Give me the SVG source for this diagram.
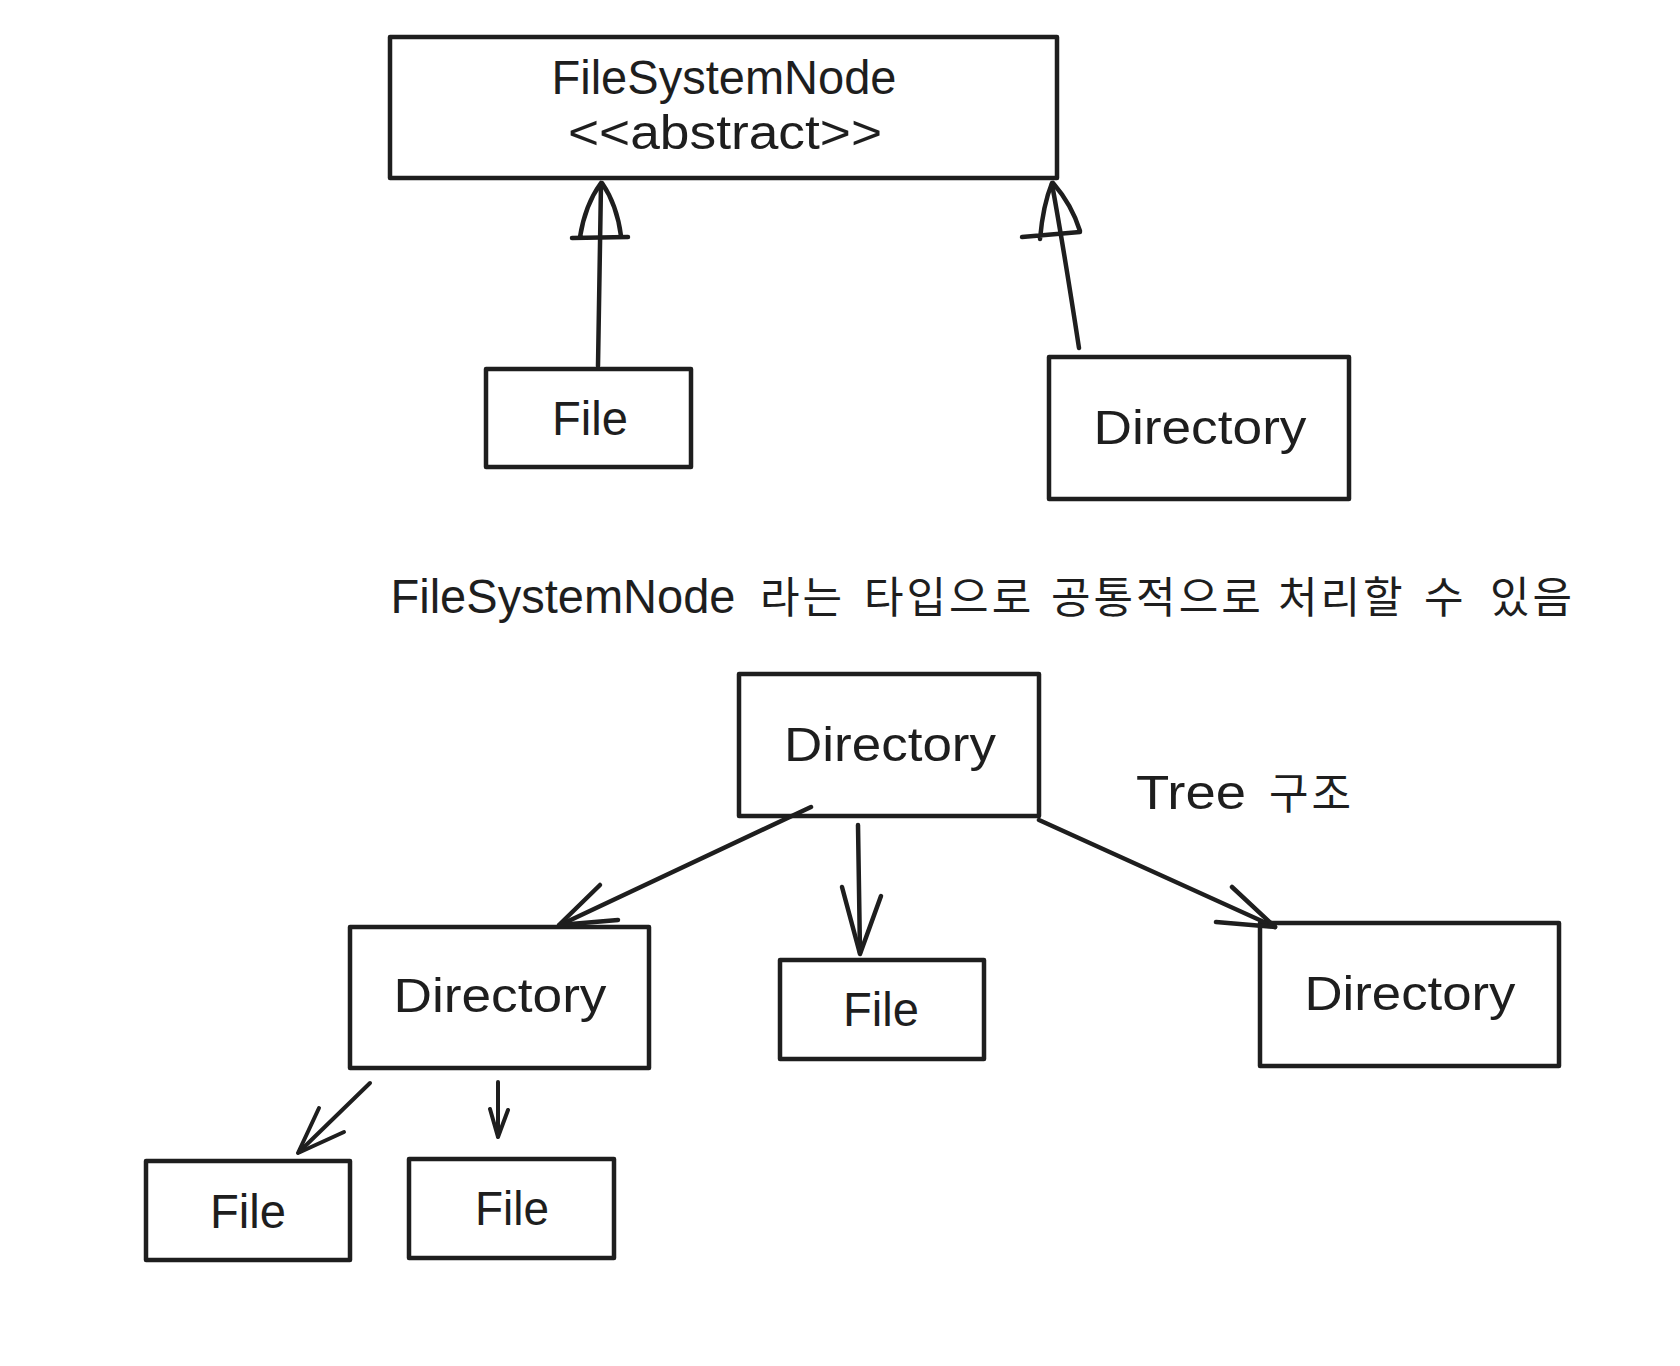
<svg xmlns="http://www.w3.org/2000/svg" width="1680" height="1366" viewBox="0 0 1680 1366">
<style>
.box{fill:none;stroke:#1e1e1e;stroke-width:4.5;stroke-linejoin:round}
.lbl{font-family:"Liberation Sans",Arial,sans-serif;font-size:48px;fill:#1e1e1e;text-anchor:middle}
.kr{font-family:"Noto Sans CJK KR",sans-serif;font-size:43px;letter-spacing:3px;fill:#1e1e1e}
.ln{fill:none;stroke:#1e1e1e;stroke-width:4.5;stroke-linecap:round;stroke-linejoin:round}
.ln3{fill:none;stroke:#1e1e1e;stroke-width:4;stroke-linecap:round;stroke-linejoin:round}
</style>
<rect width="1680" height="1366" fill="#ffffff"/>
<g id="node-filesystemnode">
<rect class="box" x="390" y="37" width="667" height="141"/>
<text class="lbl" x="724" y="94" textLength="345" lengthAdjust="spacingAndGlyphs">FileSystemNode</text>
<text class="lbl" x="725" y="149" textLength="314" lengthAdjust="spacingAndGlyphs">&lt;&lt;abstract&gt;&gt;</text>
</g>
<g id="node-file-top">
<rect class="box" x="486" y="369" width="205" height="98"/>
<text class="lbl" x="590" y="435" textLength="76" lengthAdjust="spacingAndGlyphs">File</text>
</g>
<g id="node-directory-top">
<rect class="box" x="1049" y="357" width="300" height="142"/>
<text class="lbl" x="1200" y="444" textLength="213" lengthAdjust="spacingAndGlyphs">Directory</text>
</g>
<g id="caption">
<text class="lbl" x="563" y="613" textLength="345" lengthAdjust="spacingAndGlyphs">FileSystemNode</text>
<text class="kr" y="613"><tspan x="760">라는</tspan><tspan x="864">타입으로</tspan><tspan x="1051">공통적으로</tspan><tspan x="1278">처리할</tspan><tspan x="1424">수</tspan><tspan x="1490">있음</tspan></text>
</g>
<g id="node-directory-root">
<rect class="box" x="739" y="674" width="300" height="142"/>
<text class="lbl" x="890" y="761" textLength="212" lengthAdjust="spacingAndGlyphs">Directory</text>
</g>
<g id="label-tree">
<text class="lbl" x="1191" y="809" textLength="110" lengthAdjust="spacingAndGlyphs">Tree</text>
<text class="kr" x="1269" y="809">구조</text>
</g>
<g id="node-directory-left">
<rect class="box" x="350" y="927" width="299" height="141"/>
<text class="lbl" x="500" y="1012" textLength="213" lengthAdjust="spacingAndGlyphs">Directory</text>
</g>
<g id="node-file-mid">
<rect class="box" x="780" y="960" width="204" height="99"/>
<text class="lbl" x="881" y="1026" textLength="76" lengthAdjust="spacingAndGlyphs">File</text>
</g>
<g id="node-directory-right">
<rect class="box" x="1260" y="923" width="299" height="143"/>
<text class="lbl" x="1410" y="1010" textLength="211" lengthAdjust="spacingAndGlyphs">Directory</text>
</g>
<g id="node-file-bl">
<rect class="box" x="146" y="1161" width="204" height="99"/>
<text class="lbl" x="248" y="1228" textLength="76" lengthAdjust="spacingAndGlyphs">File</text>
</g>
<g id="node-file-bm">
<rect class="box" x="409" y="1159" width="205" height="99"/>
<text class="lbl" x="512" y="1225" textLength="74" lengthAdjust="spacingAndGlyphs">File</text>
</g>
<g id="connectors">
<path class="ln" d="M598,366 L601,184"/>
<path class="ln" d="M601,183 Q585,205 580,237 M602,183 Q617,205 621,236 M572,238 L628,237"/>
<path class="ln" d="M1079,348 Q1064,250 1052,184"/>
<path class="ln" d="M1052,183 Q1043,205 1040,239 M1053,183 Q1072,205 1080,231 M1022,237 L1080,232"/>
<path class="ln" d="M811,807 L560,925"/>
<path class="ln" d="M559,925 L600,885 M559,925 L618,920"/>
<path class="ln" d="M858,825 L860,953"/>
<path class="ln" d="M860,954 L842,887 M860,954 L881,896"/>
<path class="ln" d="M1039,820 L1275,927"/>
<path class="ln" d="M1275,927 L1232,887 M1275,927 L1216,922"/>
<path class="ln3" d="M370,1083 L299,1152"/>
<path class="ln3" d="M298,1153 L319,1108 M298,1153 L344,1132"/>
<path class="ln3" d="M498,1082 L498,1136"/>
<path class="ln3" d="M498,1137 L490,1109 M498,1137 L508,1110"/>
</g>
</svg>
